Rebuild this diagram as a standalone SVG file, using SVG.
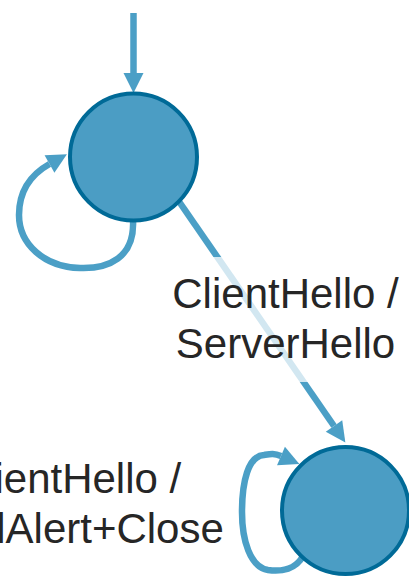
<svg xmlns="http://www.w3.org/2000/svg" width="409" height="579" viewBox="0 0 409 579">
  <style>
    .edge { fill: none; stroke: #4b9fc6; stroke-width: 6.5; }
    .state { fill: #4b9dc4; stroke: #006a97; stroke-width: 4; }
    .label { font-family: "Liberation Sans", Arial, sans-serif; font-size: 42px; fill: #262626; text-anchor: middle; }
    .label-bg { fill: #ffffff; fill-opacity: 0.75; }
  </style>
  <defs>
    <marker id="arrow" markerUnits="userSpaceOnUse" markerWidth="20" markerHeight="20" refX="0" refY="10" orient="auto" overflow="visible">
      <path d="M0,0 L20,10 L0,20 z" fill="#4b9fc6"/>
    </marker>
  </defs>

  <rect width="409" height="579" fill="#ffffff"/>

  <!-- transitions -->
  <g id="connectors">
    <!-- initial transition -->
    <path class="edge" d="M133.5,13 L133.5,73" marker-end="url(#arrow)"/>
    <!-- self loop on the start state -->
    <path class="edge" d="M133,220 C135,258 108,269 80,268 C44,267 19,244 19,215 C19,192 30,175 49.5,164" marker-end="url(#arrow)"/>
    <!-- start state to second state -->
    <path class="edge" d="M178,200 L334,426" marker-end="url(#arrow)"/>
    <!-- self loop on the second state -->
    <path class="edge" d="M303,556 C296,569 282,572 268,570 C250,567 242,540 242,512 C242,482 248,456 264,455 C270,454 274,453 281,456" marker-end="url(#arrow)"/>
    <!-- label of the start-to-second transition -->
    <g id="label-handshake">
      <rect class="label-bg" x="168" y="257" width="236" height="125"/>
      <text class="label" x="285.5" y="308">ClientHello /</text>
      <text class="label" x="285.5" y="358">ServerHello</text>
    </g>
    <!-- label of the second state's self loop -->
    <g id="label-alert">
      <text class="label" x="68" y="493">ClientHello /</text>
      <text class="label" x="68" y="543">FatalAlert+Close</text>
    </g>
  </g>

  <!-- states -->
  <g id="state-start">
    <circle class="state" cx="133.5" cy="157" r="63.5"/>
  </g>
  <g id="state-hello">
    <circle class="state" cx="345.5" cy="510.5" r="63.5"/>
  </g>
</svg>
